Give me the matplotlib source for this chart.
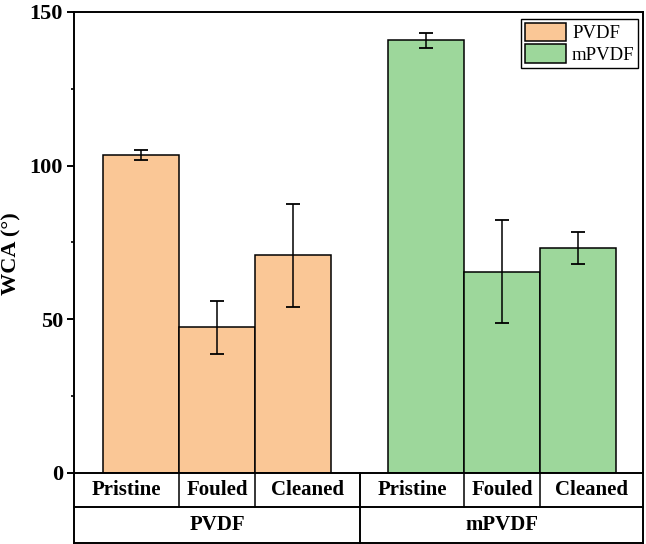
import numpy as np
import matplotlib.pyplot as plt

plt.rcParams['font.family'] = ['Liberation Serif', 'DejaVu Serif']

# data
conditions = ['Pristine', 'Fouled', 'Cleaned']
membranes = ['PVDF', 'mPVDF']
pvdf_wca = [103.4, 47.3, 70.8]
pvdf_err = [1.6, 8.5, 16.7]
mpvdf_wca = [140.8, 65.5, 73.0]
mpvdf_err = [2.5, 16.8, 5.2]

colors = ['#FAC796', '#9DD79B']
y_ticks = [0, 50, 100, 150]

fig = plt.figure(figsize=(6.46, 5.44), dpi=100)
ax = fig.add_axes([0.1146, 0.1311, 0.8808, 0.8469])

group_gap = 1.75
x_pvdf = np.arange(len(conditions))
x_mpvdf = x_pvdf + len(conditions) + group_gap - 1

err_kw = dict(ecolor='black', elinewidth=1.1, capsize=5, capthick=1.3)
ax.bar(x_pvdf, pvdf_wca, width=1.0, color=colors[0], edgecolor='black',
       linewidth=1.1, yerr=pvdf_err, error_kw=err_kw, label=membranes[0])
ax.bar(x_mpvdf, mpvdf_wca, width=1.0, color=colors[1], edgecolor='black',
       linewidth=1.1, yerr=mpvdf_err, error_kw=err_kw, label=membranes[1])

xmin, xmax = -0.886, 6.60
ax.set_xlim(xmin, xmax)
ax.set_ylim(0, 150)
ax.set_yticks(y_ticks)
ax.set_yticks([25, 75, 125], minor=True)
ax.set_xticks([])
ax.tick_params(axis='y', which='major', direction='out', length=5, width=1.4,
               labelsize=16, pad=3)
ax.tick_params(axis='y', which='minor', direction='out', length=2.5, width=1.2)
for lab in ax.get_yticklabels():
    lab.set_fontweight('bold')
for sp in ax.spines.values():
    sp.set_linewidth(1.4)

ax.set_ylabel('WCA (°)', fontsize=16, fontweight='bold')
ax.yaxis.set_label_coords(-0.092, 0.475)

# category table below the axis
trans = ax.get_xaxis_transform()
row1 = -0.0738
row2 = -0.1533
mid = (x_pvdf[-1] + x_mpvdf[0]) / 2
line_kw = dict(color='black', linewidth=1.4, transform=trans, clip_on=False)
ax.plot([xmin, xmax], [row1, row1], **line_kw)
ax.plot([xmin, xmax], [row2, row2], **line_kw)
ax.plot([xmin, xmin], [0, row2], **line_kw)
ax.plot([xmax, xmax], [0, row2], **line_kw)
ax.plot([mid, mid], [0, row2], **line_kw)

for xs, left, right, name in [(x_pvdf, xmin, mid, membranes[0]),
                              (x_mpvdf, mid, xmax, membranes[1])]:
    edges = [left] + list(xs[:-1] + 0.5) + [right]
    for e in edges[1:-1]:
        ax.plot([e, e], [0, row1], color='black', linewidth=1.1,
                transform=trans, clip_on=False)
    for i, cond in enumerate(conditions):
        ax.text((edges[i] + edges[i + 1]) / 2, row1 / 2, cond, transform=trans,
                ha='center', va='center', fontsize=15, fontweight='bold')
    ax.text((left + right) / 2, (row1 + row2) / 2, name, transform=trans,
            ha='center', va='center', fontsize=15, fontweight='bold')

leg = ax.legend(loc='upper right', bbox_to_anchor=(0.9917, 0.9848), fontsize=13.5,
                frameon=True, fancybox=False, framealpha=1, edgecolor='black',
                handlelength=2.2, handleheight=1.15, labelspacing=0.1,
                handletextpad=0.3, borderpad=0.2, borderaxespad=0)
leg.get_frame().set_linewidth(1.0)

fig.savefig('out.png', dpi=100)
